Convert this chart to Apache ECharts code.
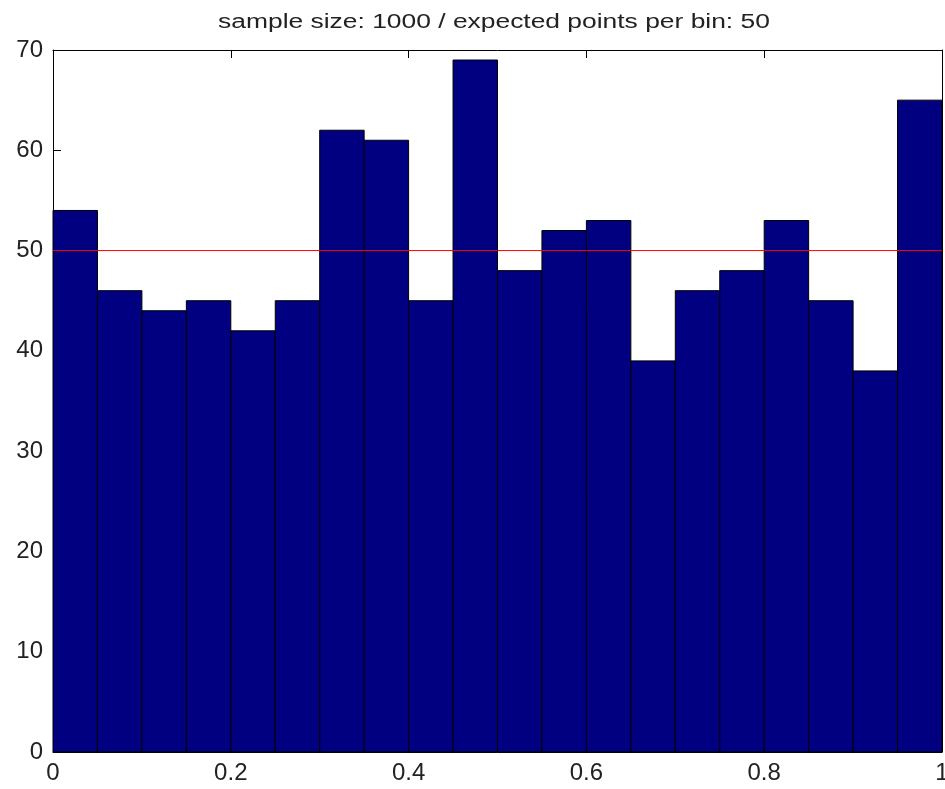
<!DOCTYPE html>
<html>
<head>
<meta charset="utf-8">
<script src="https://cdn.jsdelivr.net/npm/echarts@6/dist/echarts.min.js"></script>
<style>
  html, body { margin: 0; padding: 0; background: #fff; }
  #chart { width: 945px; height: 789px; }
</style>
</head>
<body>
<div id="chart"></div>
<script>
// Histogram of 1000 uniform samples in 20 bins over [0, 1]
const binEdges = [0, 0.05, 0.1, 0.15, 0.2, 0.25, 0.3, 0.35, 0.4, 0.45, 0.5,
                  0.55, 0.6, 0.65, 0.7, 0.75, 0.8, 0.85, 0.9, 0.95, 1];
const counts = [54, 46, 44, 45, 42, 45, 62, 61, 45, 69,
                48, 52, 53, 39, 46, 48, 53, 45, 38, 65];
const expectedPerBin = 50;
const xTicks = [0, 0.2, 0.4, 0.6, 0.8, 1];
const yTicks = [0, 10, 20, 30, 40, 50, 60, 70];
const titleText = 'sample size: 1000 / expected points per bin: 50';

const binData = counts.map((c, i) => [binEdges[i], binEdges[i + 1], c]);

const chart = echarts.init(document.getElementById('chart'), null, { renderer: 'canvas' });

const font = 'Liberation Sans, Arial, sans-serif';
const axisLine = { show: true, onZero: false, lineStyle: { color: '#000', width: 1 } };
const tick = { show: true, inside: true, length: 8, lineStyle: { color: '#000', width: 1 } };

chart.setOption({
  animation: false,
  backgroundColor: '#fff',
  // title drawn as a horizontally stretched text element
  graphic: [
    {
      type: 'text',
      x: 494, y: 22,
      scaleX: 1.32,
      style: {
        text: titleText,
        fontFamily: font, fontSize: 20, fill: '#222',
        align: 'center', verticalAlign: 'middle'
      },
      z: 10
    }
  ],
  grid: { left: 53, top: 50, right: 3, bottom: 37, containLabel: false, outerBoundsMode: 'none' },
  xAxis: [
    {
      type: 'value', min: 0, max: 1, interval: 0.2, position: 'bottom',
      axisLine, axisTick: tick, splitLine: { show: false },
      axisLabel: {
        fontFamily: font, fontSize: 24, color: '#222', margin: 9,
        formatter: v => (xTicks.includes(+v.toFixed(2)) ? String(+v.toFixed(2)) : '')
      }
    },
    {
      type: 'value', min: 0, max: 1, interval: 0.2, position: 'top',
      axisLine, axisTick: tick, axisLabel: { show: false }, splitLine: { show: false }
    }
  ],
  yAxis: [
    {
      type: 'value', min: 0, max: 70, interval: 10, position: 'left',
      axisLine, axisTick: tick, splitLine: { show: false },
      axisLabel: {
        fontFamily: font, fontSize: 24, color: '#222', margin: 10,
        formatter: v => (yTicks.includes(v) ? String(v) : '')
      }
    },
    {
      type: 'value', min: 0, max: 70, interval: 10, position: 'right',
      axisLine, axisTick: tick, axisLabel: { show: false }, splitLine: { show: false }
    }
  ],
  series: [
    {
      type: 'custom',
      xAxisIndex: 0, yAxisIndex: 0,
      data: binData,
      renderItem: function (params, api) {
        const p0 = api.coord([api.value(0), api.value(2)]);
        const p1 = api.coord([api.value(1), 0]);
        return {
          type: 'rect',
          shape: { x: p0[0], y: p0[1], width: p1[0] - p0[0], height: p1[1] - p0[1] },
          style: { fill: '#000080', stroke: '#000', lineWidth: 1 }
        };
      },
      z: 2
    },
    {
      type: 'line',
      xAxisIndex: 0, yAxisIndex: 0,
      data: [[binEdges[0], expectedPerBin], [binEdges[binEdges.length - 1], expectedPerBin]],
      symbol: 'none',
      lineStyle: { color: '#ff0000', width: 1 },
      z: 3
    }
  ]
});
</script>
</body>
</html>
